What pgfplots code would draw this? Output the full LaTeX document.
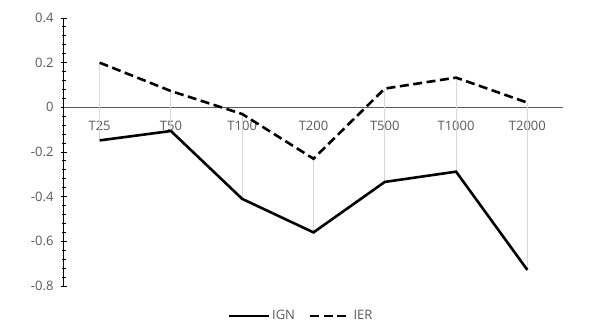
\documentclass[border=0pt]{standalone}
\usepackage{pgfplots}
\pgfplotsset{compat=1.18}
\usepackage{fontspec}
\setmainfont{Open Sans}
\definecolor{txtgray}{HTML}{595959}
\definecolor{hlgray}{HTML}{D9D9D9}
\begin{document}
\begin{tikzpicture}
\useasboundingbox (-64bp,-47bp) rectangle (525bp,286bp);
\begin{axis}[
  at={(0,0)}, anchor=south west,
  scale only axis, width=499bp, height=268bp,
  xmin=-0.5, xmax=6.5, ymin=-0.8, ymax=0.4,
  axis x line=middle, axis y line=left,
  x axis line style={-, draw=txtgray, line width=1.3bp},
  y axis line style={-, draw=black, line width=1bp},
  xtick={0,...,6},
  xticklabels={T25,T50,T100,T200,T500,T1000,T2000},
  xtick style={draw=none},
  x tick label style={yshift=-7bp},
  ytick={-0.8,-0.6,-0.4,-0.2,0,0.2,0.4},
  yticklabels={-0.8,-0.6,-0.4,-0.2,0,0.2,0.4},
  minor y tick num=4,
  y tick style={draw=black, line width=0.9bp},
  tick align=center,
  major tick length=6bp, minor tick length=4bp,
  tick label style={font=\fontsize{13bp}{15bp}\selectfont, text=txtgray},
  y tick label style={xshift=-4bp},
  legend style={draw=none, fill=none, legend columns=2, at={(0.475,-0.112)}, anchor=center,
    font=\fontsize{13bp}{15bp}\selectfont, text=txtgray,
    /tikz/every even column/.append style={column sep=12bp}},
  legend image code/.code={\draw[#1] (0bp,0bp) -- (40bp,0bp);},
  clip=false,
]
% high-low lines
\addplot[draw=hlgray, line width=1bp, forget plot] coordinates {(0,0.2) (0,-0.148)};
\addplot[draw=hlgray, line width=1bp, forget plot] coordinates {(1,0.073) (1,-0.106)};
\addplot[draw=hlgray, line width=1bp, forget plot] coordinates {(2,-0.03) (2,-0.41)};
\addplot[draw=hlgray, line width=1bp, forget plot] coordinates {(3,-0.23) (3,-0.56)};
\addplot[draw=hlgray, line width=1bp, forget plot] coordinates {(4,0.084) (4,-0.334)};
\addplot[draw=hlgray, line width=1bp, forget plot] coordinates {(5,0.133) (5,-0.288)};
\addplot[draw=hlgray, line width=1bp, forget plot] coordinates {(6,0.021) (6,-0.728)};
% series
\addplot[black, line width=2.6bp, no marks] coordinates {
  (0,-0.148) (1,-0.106) (2,-0.41) (3,-0.56) (4,-0.334) (5,-0.288) (6,-0.728)};
\addlegendentry{IGN}
\addplot[black, line width=2.6bp, no marks, dash pattern=on 9bp off 4.5bp] coordinates {
  (0,0.2) (1,0.073) (2,-0.03) (3,-0.23) (4,0.084) (5,0.133) (6,0.021)};
\addlegendentry{IER}
\end{axis}
\end{tikzpicture}
\end{document}
